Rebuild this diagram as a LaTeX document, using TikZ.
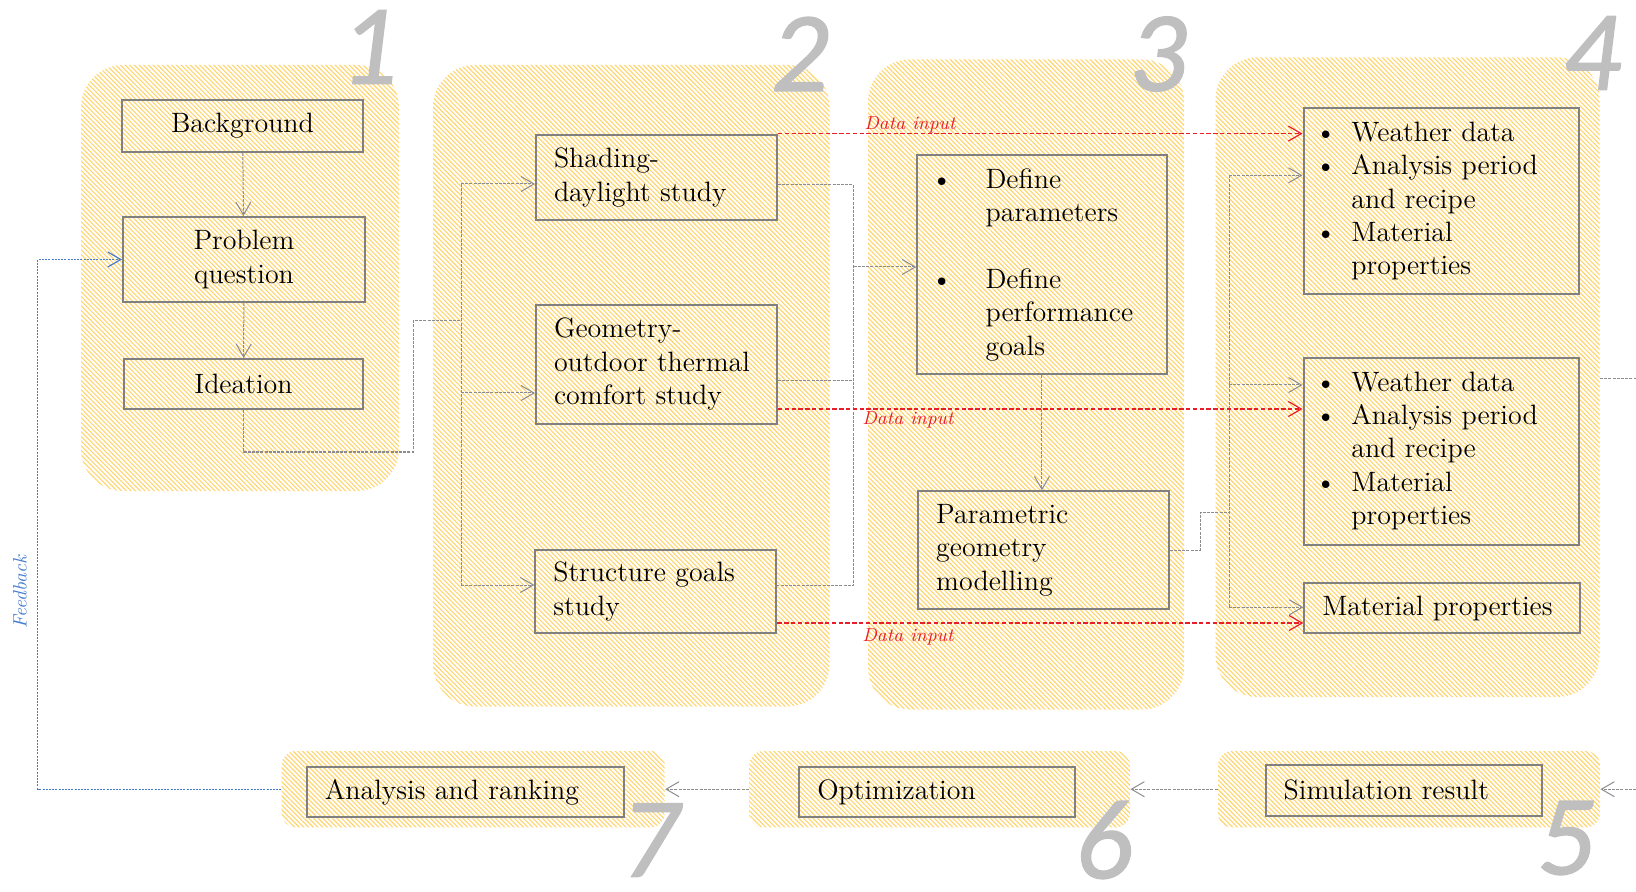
\documentclass[tikz,border=0pt]{standalone}
\usepackage{fontspec}
\setmainfont{Latin Modern Roman}
\newfontfamily\numfont{Carlito Italic}[FakeBold=1.2]
\usetikzlibrary{arrows.meta,patterns.meta}
\setlength{\parindent}{0pt}

\definecolor{hatch}{RGB}{255,212,105}
\definecolor{boxgray}{RGB}{128,128,128}
\definecolor{linkgray}{RGB}{140,140,140}
\definecolor{datared}{RGB}{232,30,40}
\definecolor{fbblue}{RGB}{70,125,205}
\definecolor{numgray}{RGB}{191,191,191}

\newcommand\diagfont{\fontsize{14}{16.7}\selectfont}

\tikzset{
  panel/.style={inner sep=0pt, rounded corners=21pt,
    pattern={Lines[angle=-45,distance=1.65pt,line width=0.55pt]}, pattern color=hatch},
  strip/.style={panel, rounded corners=7pt},
  stage/.style={draw=boxgray, line width=1pt, inner ysep=0pt, font=\diagfont, text=black},
  cbox/.style={stage, inner xsep=0pt, align=center},
  lbox/.style={stage, inner xsep=9pt, align=left},
  tip/.style={-{Straight Barb[length=6.5pt,width=7.5pt]}},
  conn/.style={draw=linkgray, line width=0.5pt, dash pattern=on 1.5pt off 0.6pt},
  arr/.style={conn, tip},
  datalink/.style={draw=datared, line width=0.6pt, dash pattern=on 2.2pt off 1.2pt, tip},
  fb/.style={draw=fbblue, line width=0.6pt, dash pattern=on 1pt off 0.6pt, tip},
  dlabel/.style={inner sep=0pt, text=datared, font=\itshape\fontsize{9.4}{11}\selectfont},
  num/.style={inner sep=0pt, text=numgray, font=\numfont\fontsize{57}{57}\selectfont},
}

\begin{document}
\begin{tikzpicture}[x=0.5pt,y=-0.5pt]
\useasboundingbox (0,0) rectangle (1636,892);

% hatched stage panels
\node[panel, minimum width=159pt, minimum height=213pt] (p1) at (240,278) {};
\node[panel, minimum width=198.25pt, minimum height=320.75pt] (p2) at (631.25,385.75) {};
\node[panel, minimum width=158pt, minimum height=325pt] (p3) at (1026,384.5) {};
\node[panel, minimum width=192pt, minimum height=319.8pt] (p4) at (1407.5,377.2) {};
\node[strip, minimum width=191.5pt, minimum height=38.2pt] (p7) at (473.2,789.2) {};
\node[strip, minimum width=190.4pt, minimum height=38.2pt] (p6) at (939.6,789.2) {};
\node[strip, minimum width=191pt, minimum height=38.2pt] (p5) at (1409,789.2) {};

% stage 1
\node[cbox, minimum width=120.5pt, minimum height=26pt] (background) at (242.5,126) {Background};
\node[cbox, minimum width=121pt, minimum height=42.5pt] (problem) at (244,259.5) {Problem\\question};
\node[cbox, minimum width=119.5pt, minimum height=25pt] (ideation) at (243.5,384) {Ideation};

% stage 2
\node[lbox, text width=102.5pt, minimum height=42.8pt] (shading) at (656.5,177.4) {Shading-\\daylight study};
\node[lbox, text width=102.5pt, minimum height=59.5pt] (geometry) at (656.5,364.2) {Geometry-\\outdoor thermal\\comfort study};
\node[lbox, text width=102.5pt, minimum height=41.7pt] (structure) at (655.8,591.6) {Structure goals\\study};

% stage 3
\node[stage, inner xsep=7pt, text width=110.7pt, align=left, minimum height=109.5pt] (define) at (1041.9,265) {%
  \begin{tabular}{@{}l@{\hspace{16.5pt}}l@{}}
  \textbullet & Define\\
   & parameters\\
   & \\
  \textbullet & Define\\
   & performance\\
   & goals
  \end{tabular}};
\node[lbox, text width=107.2pt, minimum height=59pt] (parametric) at (1043.4,550.3) {Parametric\\geometry\\modelling};

% stage 4
\node[stage, inner xsep=5.8pt, text width=126.2pt, align=left, minimum height=92.9pt] (weather1) at (1441.3,201.4) {%
  \begin{tabular}{@{}l@{\hspace{7.5pt}}l@{}}
  \textbullet & Weather data\\
  \textbullet & Analysis period\\
   & and recipe\\
  \textbullet & Material\\
   & properties
  \end{tabular}};
\node[stage, inner xsep=5.8pt, text width=126.2pt, align=left, minimum height=93.4pt] (weather2) at (1441.3,451.3) {%
  \begin{tabular}{@{}l@{\hspace{7.5pt}}l@{}}
  \textbullet & Weather data\\
  \textbullet & Analysis period\\
   & and recipe\\
  \textbullet & Material\\
   & properties
  \end{tabular}};
\node[lbox, text width=119.7pt, minimum height=25pt] (material) at (1442,608.3) {Material properties};

% stages 5-7
\node[lbox, text width=120.2pt, minimum height=25.6pt] (simulation) at (1403.9,790.4) {Simulation result};
\node[lbox, text width=119.7pt, minimum height=25pt] (optimization) at (937,792) {Optimization};
\node[lbox, text width=140.6pt, minimum height=25pt] (analysis) at (465.4,792) {Analysis and ranking};

% stage 1 flow
\draw[arr] (background) -- (problem);
\draw[arr] (problem) -- (ideation);
\coordinate (splitL) at (461,321);
\draw[conn] (ideation.south) |- (413,452) |- (splitL);

% branching into the three studies
\coordinate (busL1) at (461,184);
\coordinate (busL2) at (461,393);
\coordinate (busL3) at (461,585);
\draw[conn] (busL1) -- (busL3);
\draw[arr] (busL1) -- (busL1 -| shading.west);
\draw[arr] (busL2) -- (busL2 -| geometry.west);
\draw[arr] (busL3) -- (busL3 -| structure.west);

% merging the studies into stage 3
\coordinate (busR1) at (853.5,184.7);
\coordinate (busR2) at (853.5,380.8);
\coordinate (busR3) at (853.5,585.3);
\coordinate (busRm) at (853.5,267);
\draw[conn] (busR1 -| shading.east) -- (busR1) -- (busR3) -- (busR3 -| structure.east);
\draw[conn] (busR2 -| geometry.east) -- (busR2);
\draw[arr] (busRm) -- (busRm -| define.west);
\draw[arr] (define.south) -- (define.south |- parametric.north);

% parametric model feeding stage 4
\coordinate (busS0) at (1229,512);
\coordinate (busS1) at (1229,175.3);
\coordinate (busS2) at (1229,385);
\coordinate (busS3) at (1229,607.3);
\draw[conn] (parametric.east) -| (1200,512) -- (busS0);
\draw[conn] (busS1) -- (busS3);
\draw[arr] (busS1) -- (busS1 -| weather1.west);
\draw[arr] (busS2) -- (busS2 -| weather2.west);
\draw[arr] (busS3) -- (busS3 -| material.west);

% data input links
\coordinate (dl2) at (777,409);
\coordinate (dl3) at (776,623);
\draw[datalink] (shading.north east) -- (shading.north east -| weather1.west);
\draw[datalink] (geometry.east |- dl2) -- (dl2 -| weather2.west);
\draw[datalink] (structure.east |- dl3) -- (dl3 -| material.west);
\node[dlabel, anchor=south west] (di1) at (864,134) {Data input};
\node[dlabel, anchor=north west] (di2) at (862,411) {Data input};
\node[dlabel, anchor=north west] (di3) at (862,628) {Data input};

% outgoing / incoming at the right edge
\coordinate (outR) at (1636,379);
\coordinate (inR) at (1636,789.2);
\draw[conn] (p4.east |- outR) -- (outR);
\draw[arr] (inR) -- (p5.east);

% bottom row
\draw[arr] (p5.west) -- (p6.east);
\draw[arr] (p6.west) -- (p7.east);

% feedback loop
\draw[fb] (p7.west) -| (37.7,259.5) -- (problem.west);
\node[rotate=90, inner sep=0pt, text=fbblue, font=\itshape\fontsize{9.7}{11}\selectfont] (fblabel) at (20,592) {Feedback};

% stage numbers
\node[num] (n1) at (369,47) {1};
\node[num] (n2) at (800,54) {2};
\node[num] (n3) at (1158,54) {3};
\node[num] (n4) at (1592,53) {4};
\node[num] (n5) at (1566,838) {5};
\node[num] (n6) at (1104,840) {6};
\node[num] (n7) at (650,840) {7};
\end{tikzpicture}
\end{document}
